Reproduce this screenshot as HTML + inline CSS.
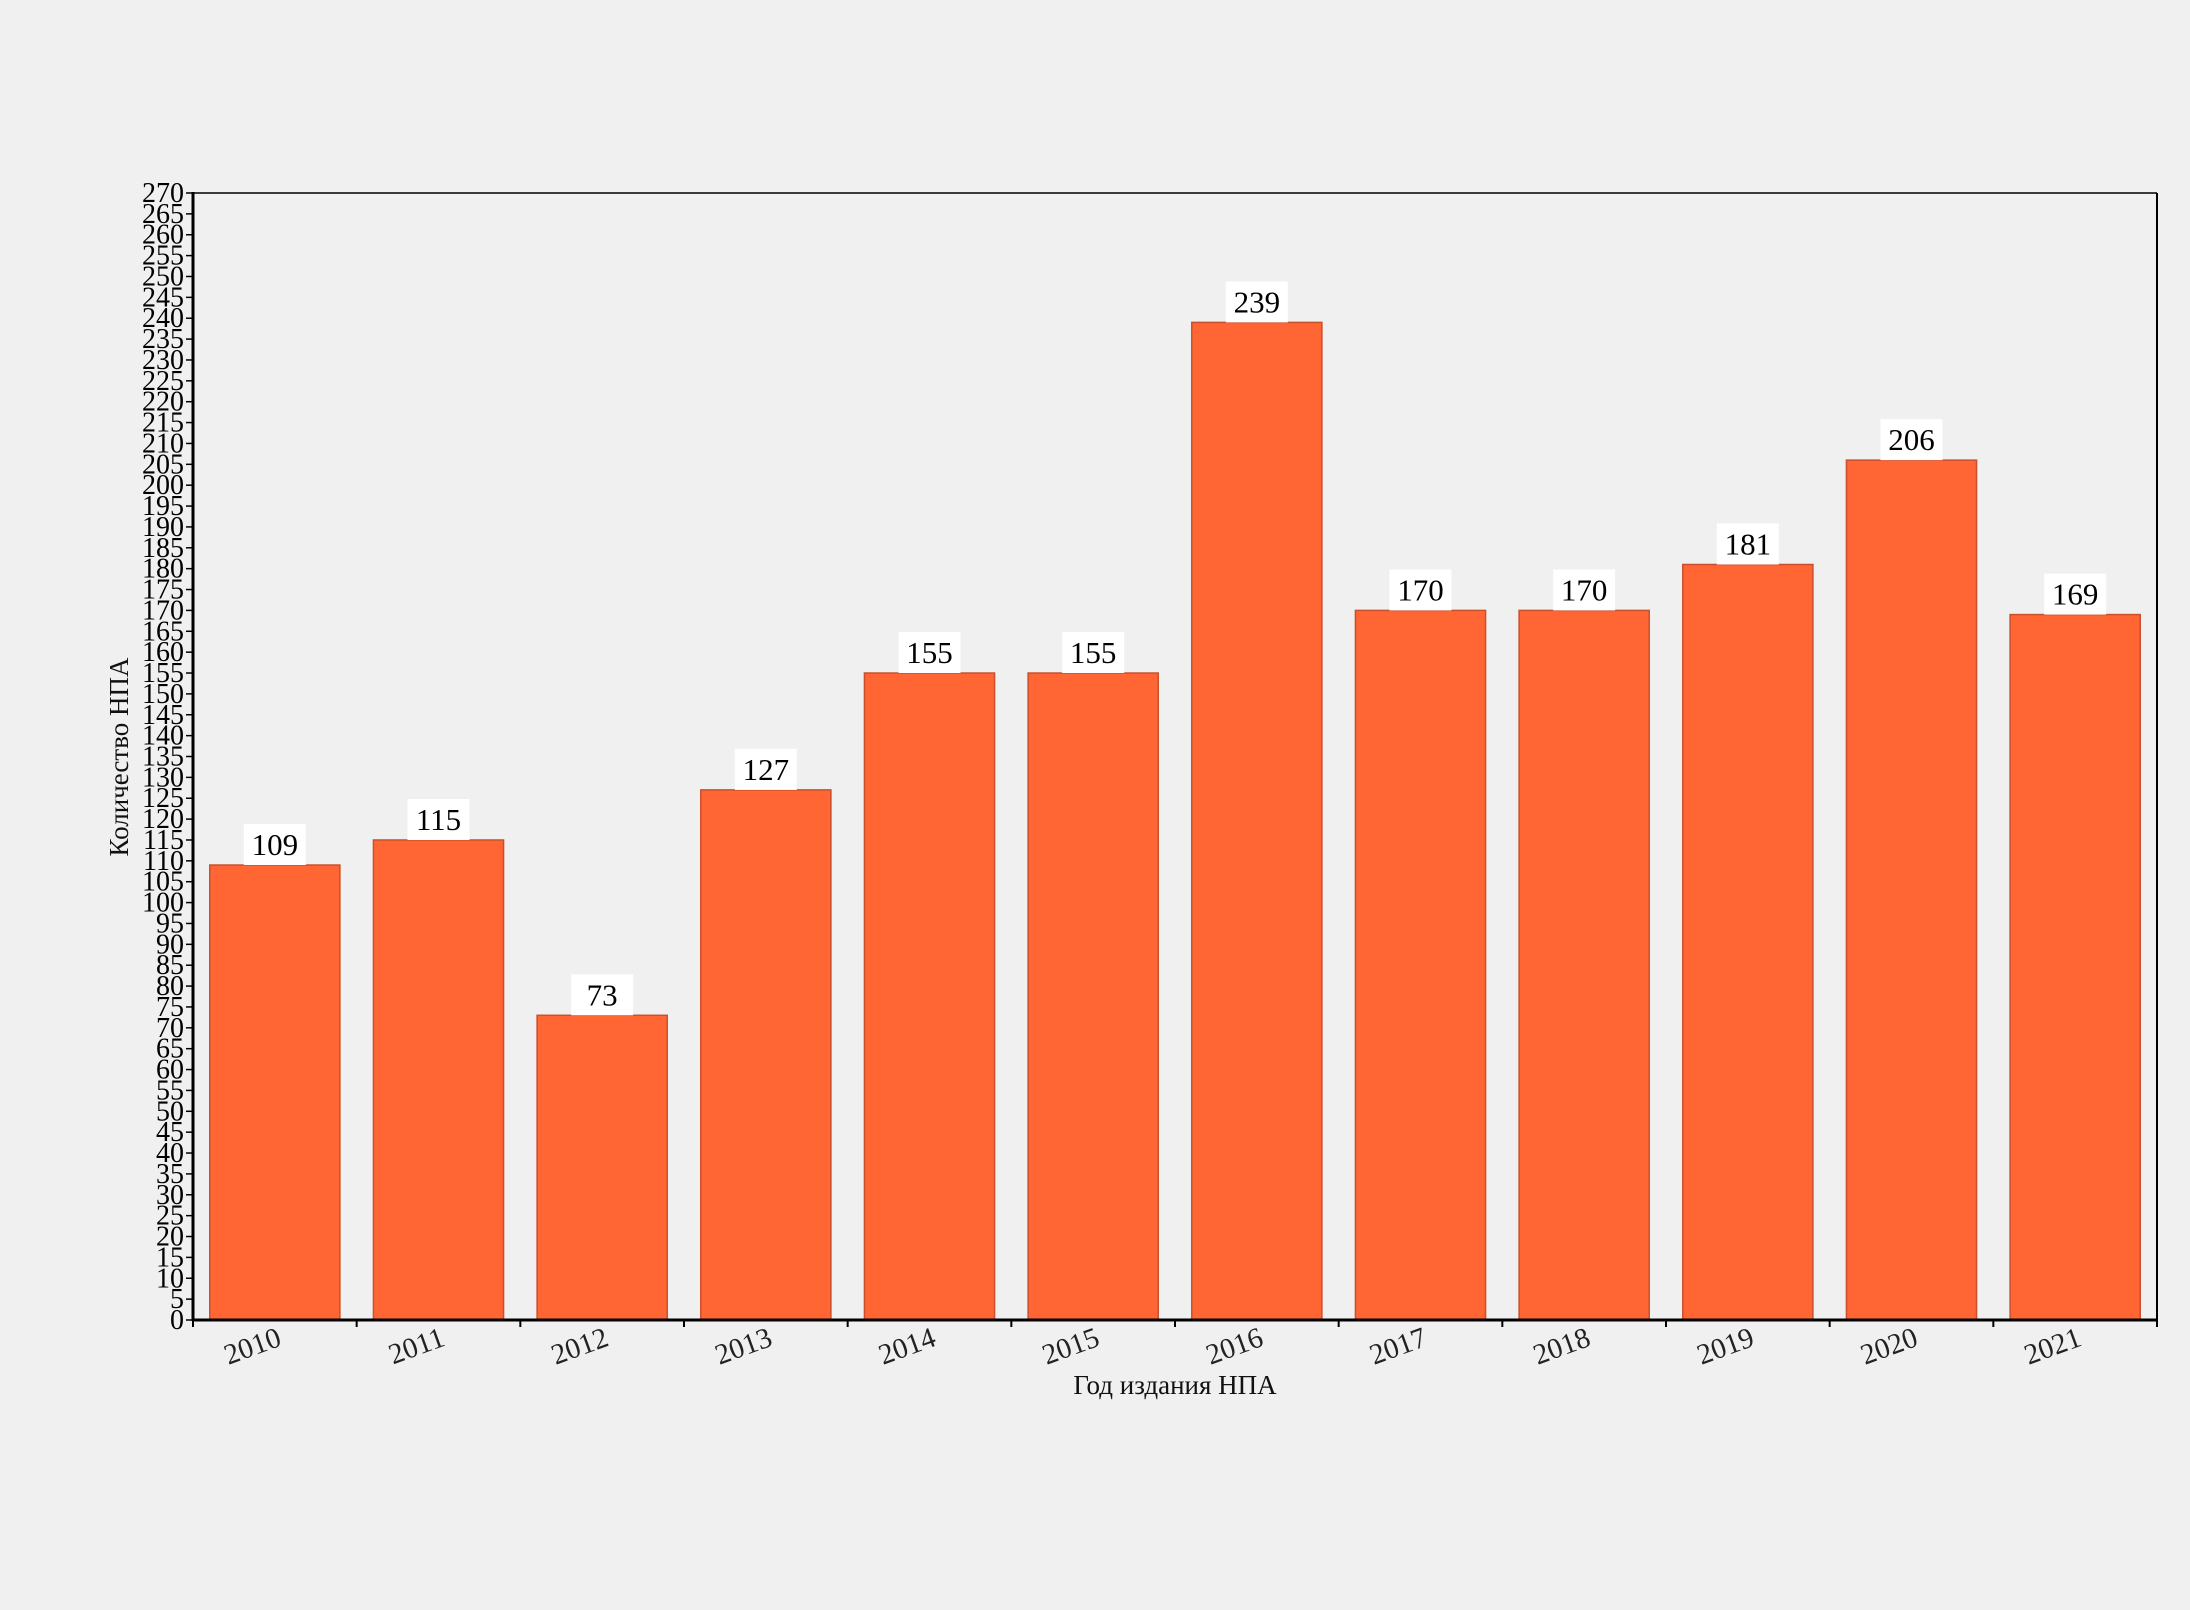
<!DOCTYPE html>
<html><head><meta charset="utf-8"><style>
html,body{margin:0;padding:0;background:#f0f0f0;}
svg{display:block;font-family:"Liberation Serif",serif;}
</style></head><body>
<svg id="chart" width="2190" height="1610" viewBox="0 0 2190 1610" xmlns="http://www.w3.org/2000/svg">
<rect width="2190" height="1610" fill="#f0f0f0"/>
<g id="plot"></g>
<text x="1175" y="1394" font-size="27" text-anchor="middle" fill="#111">Год издания НПА</text>
<text transform="translate(128,757) rotate(-90)" font-size="27" text-anchor="middle" fill="#111">Количество НПА</text>
</svg>
<script>
const categories = ["2010","2011","2012","2013","2014","2015","2016","2017","2018","2019","2020","2021"];
const values = [109,115,73,127,155,155,239,170,170,181,206,169];
const yMax = 270;
const yStep = 5;

const L=193,R=2157,T=193,B=1320;
const NS="http://www.w3.org/2000/svg";
const g=document.getElementById('plot');
function y(v){return B-(v/yMax)*(B-T);}
const band=(R-L)/categories.length;
function xc(i){return L+band*(i+0.5);}
function mk(tag,attrs){const e=document.createElementNS(NS,tag);for(const k in attrs)e.setAttribute(k,attrs[k]);g.appendChild(e);return e;}

categories.forEach((c,i)=>{
  const bw=band*0.795, v=values[i];
  const r=mk('rect',{x:xc(i)-bw/2,y:y(v),width:bw,height:B-y(v),fill:'#ff6633',stroke:'#c9502b','stroke-width':1.5});
  
  
  const bx=mk('rect',{x:xc(i)-31,y:y(v)-41,width:62,height:41,fill:'#ffffff'});
  
  
  const t=mk('text',{x:xc(i),y:y(v)-10,'font-size':31,'text-anchor':'middle',fill:'#000'});
  t.textContent=String(v);
  
  
  const xl=mk('text',{transform:`translate(${xc(i)+8},${B+25}) rotate(-20)`,'font-size':29,'text-anchor':'end',fill:'#222'});
  xl.textContent=c;
  
  
});
for(let i=0;i<=categories.length;i++){
  const tk=mk('line',{x1:L+band*i,x2:L+band*i,y1:B,y2:B+7,stroke:'#000','stroke-width':2});
  
  
}
for(let v=0;v<=yMax;v+=yStep){
  const tk=mk('line',{x1:L-7,x2:L,y1:y(v),y2:y(v),stroke:'#000','stroke-width':1.5});
  
  
  const t=mk('text',{x:L-9,y:y(v)+9,'font-size':28,'text-anchor':'end',fill:'#000'});
  t.textContent=String(v);
  
  
}
const borderTop=mk('line',{x1:L,x2:R,y1:T,y2:T,stroke:'#000','stroke-width':1.5});


const borderRight=mk('line',{x1:R,x2:R,y1:T,y2:B,stroke:'#000','stroke-width':2});


const ya=mk('line',{x1:L,x2:L,y1:T-1,y2:B+1,stroke:'#000','stroke-width':3});


const xa=mk('line',{x1:L-1,x2:R+1,y1:B,y2:B,stroke:'#000','stroke-width':3});


</script>
</body></html>
